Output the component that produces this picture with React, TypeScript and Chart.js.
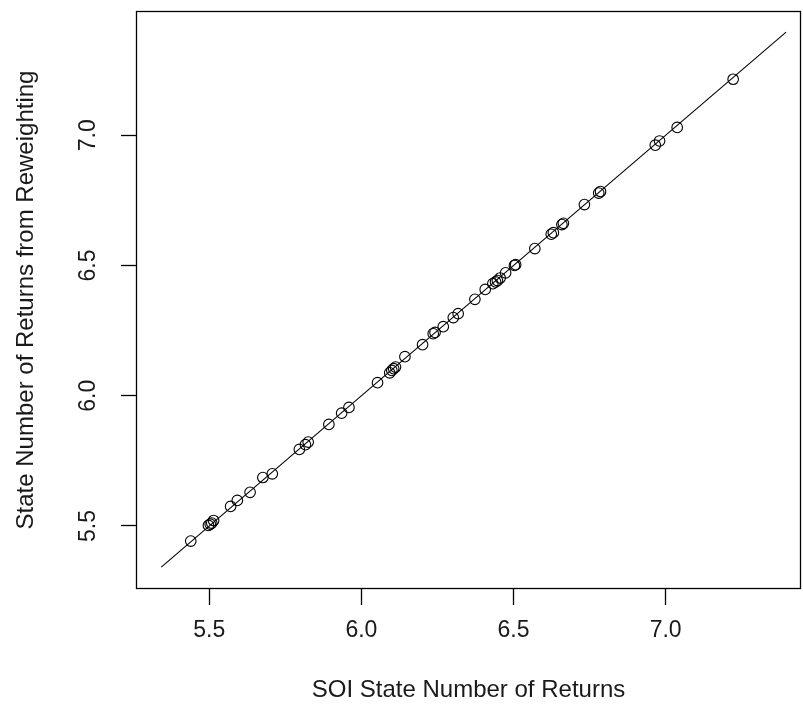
import React, { useEffect, useRef } from 'react';
import { Chart, registerables } from 'chart.js';

Chart.register(...registerables);

const soiReturns = [
  5.439, 5.497, 5.503, 5.508, 5.514, 5.570, 5.592, 5.634, 5.676, 5.707,
  5.796, 5.816, 5.825, 5.893, 5.935, 5.959, 6.053, 6.093, 6.100, 6.106,
  6.112, 6.143, 6.201, 6.236, 6.242, 6.269, 6.302, 6.318, 6.373, 6.407,
  6.432, 6.441, 6.447, 6.456, 6.474, 6.503, 6.507, 6.570, 6.624, 6.631,
  6.659, 6.664, 6.733, 6.780, 6.786, 6.966, 6.980, 7.038, 7.222,
];
const reweightedReturns = [
  5.442, 5.502, 5.507, 5.511, 5.521, 5.575, 5.598, 5.629, 5.686, 5.700,
  5.794, 5.812, 5.822, 5.890, 5.933, 5.955, 6.050, 6.088, 6.097, 6.104,
  6.110, 6.150, 6.196, 6.238, 6.243, 6.265, 6.300, 6.315, 6.370, 6.408,
  6.430, 6.437, 6.442, 6.452, 6.472, 6.500, 6.503, 6.565, 6.620, 6.626,
  6.657, 6.662, 6.734, 6.778, 6.784, 6.962, 6.978, 7.030, 7.215,
];
const refLineX = [5.342, 7.396];
const refLineY = [5.342, 7.396];
const xTicks = [5.5, 6.0, 6.5, 7.0];
const yTicks = [5.5, 6.0, 6.5, 7.0];
const xTitle = 'SOI State Number of Returns';
const yTitle = 'State Number of Returns from Reweighting';

const TICK_FONT = '23px "Liberation Sans", Arial, sans-serif';
const TITLE_FONT = '24px "Liberation Sans", Arial, sans-serif';

const textPlugin = {
  id: 'rText',
  afterDraw(chart: any) {
    const { ctx, chartArea, scales } = chart;
    const xs = scales.x;
    const ys = scales.y;
    ctx.save();
    ctx.strokeStyle = '#000';
    ctx.lineWidth = 1.3;
    ctx.strokeRect(
      Math.round(chartArea.left) + 0.5,
      Math.round(chartArea.top) + 0.5,
      Math.round(chartArea.right - chartArea.left) - 1,
      Math.round(chartArea.bottom - chartArea.top) - 1
    );
    ctx.fillStyle = '#1a1a1a';
    ctx.textAlign = 'center';
    ctx.textBaseline = 'middle';
    ctx.font = TICK_FONT;
    xTicks.forEach((v) => {
      ctx.fillText(v.toFixed(1), xs.getPixelForValue(v), 631);
    });
    yTicks.forEach((v) => {
      ctx.save();
      ctx.translate(89, ys.getPixelForValue(v));
      ctx.rotate(-Math.PI / 2);
      ctx.fillText(v.toFixed(1), 0, 0);
      ctx.restore();
    });
    ctx.font = TITLE_FONT;
    ctx.fillText(xTitle, (chartArea.left + chartArea.right) / 2, 690);
    ctx.save();
    ctx.translate(26, (chartArea.top + chartArea.bottom) / 2);
    ctx.rotate(-Math.PI / 2);
    ctx.fillText(yTitle, 0, 0);
    ctx.restore();
    ctx.restore();
  },
};

export default function App() {
  const ref = useRef<HTMLCanvasElement>(null);
  useEffect(() => {
    if (!ref.current) return;
    const points = soiReturns.map((x, i) => ({ x, y: reweightedReturns[i] }));
    const line = refLineX.map((x, i) => ({ x, y: refLineY[i] }));
    const chart = new Chart(ref.current, {
      type: 'scatter',
      data: {
        datasets: [
          {
            type: 'line',
            data: line,
            borderColor: '#000',
            borderWidth: 1.1,
            pointRadius: 0,
            fill: false,
          } as any,
          {
            data: points,
            pointStyle: 'circle',
            pointRadius: 5.3,
            pointBorderColor: '#000',
            pointBackgroundColor: 'rgba(0,0,0,0)',
            pointBorderWidth: 1.1,
          } as any,
        ],
      },
      options: {
        animation: false,
        responsive: false,
        devicePixelRatio: 1,
        layout: { autoPadding: false, padding: { top: 11, right: 2, left: 0, bottom: 0 } },
        plugins: {
          legend: { display: false },
          tooltip: { enabled: false },
        },
        scales: {
          x: {
            type: 'linear',
            min: 5.259,
            max: 7.445,
            afterBuildTicks: (s: any) => {
              s.ticks = xTicks.map((v) => ({ value: v }));
            },
            afterFit: (s: any) => {
              s.height = 132;
            },
            grid: {
              display: true,
              drawOnChartArea: false,
              drawTicks: true,
              tickLength: 16,
              tickColor: '#000',
              tickWidth: 1.3,
            },
            border: { display: false },
            ticks: { display: false },
          },
          y: {
            type: 'linear',
            min: 5.258,
            max: 7.477,
            afterBuildTicks: (s: any) => {
              s.ticks = yTicks.map((v) => ({ value: v }));
            },
            afterFit: (s: any) => {
              s.width = 136;
            },
            grid: {
              display: true,
              drawOnChartArea: false,
              drawTicks: true,
              tickLength: 15,
              tickColor: '#000',
              tickWidth: 1.3,
            },
            border: { display: false },
            ticks: { display: false },
          },
        },
      } as any,
      plugins: [textPlugin],
    });
    return () => chart.destroy();
  }, []);
  return (
    <div style={{ position: 'absolute', left: 0, top: 0, width: 803, height: 721, background: '#fff' }}>
      <canvas ref={ref} width={803} height={721} style={{ display: 'block' }} />
    </div>
  );
}
